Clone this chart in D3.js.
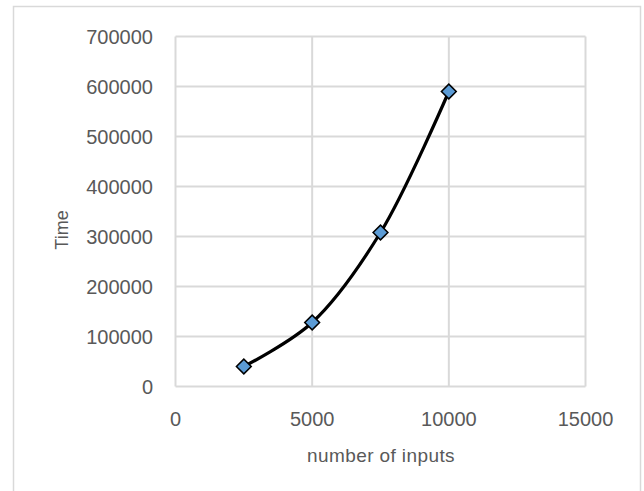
<!DOCTYPE html>
<html>
<head>
<meta charset="utf-8">
<script src="https://cdn.jsdelivr.net/npm/d3@7.9.0/dist/d3.min.js"></script>
<style>
  html, body { margin: 0; padding: 0; background: #fff; }
  svg text { font-family: "Liberation Sans", Arial, sans-serif; fill: #595959; }
</style>
</head>
<body>
<svg id="chart" width="644" height="491"></svg>
<script>
// values
const inputs = [2500, 5000, 7500, 10000];
const times = [40000, 128000, 308000, 590000];
const xTicks = [0, 5000, 10000, 15000];
const yTicks = [0, 100000, 200000, 300000, 400000, 500000, 600000, 700000];

const svg = d3.select('#chart');

// outer chart border
svg.append('rect')
  .attr('x', 13.5).attr('y', 6.5)
  .attr('width', 627).attr('height', 500)
  .attr('fill', 'none').attr('stroke', '#d9d9d9').attr('stroke-width', 1.5);

const x = d3.scaleLinear().domain([0, 15000]).range([175.5, 585.5]);
const y = d3.scaleLinear().domain([0, 700000]).range([386.5, 36.5]);

// gridlines
svg.append('g').selectAll('line').data(yTicks).join('line')
  .attr('x1', x(0)).attr('x2', x(15000))
  .attr('y1', d => y(d)).attr('y2', d => y(d))
  .attr('stroke', '#d9d9d9').attr('stroke-width', 2);

svg.append('g').selectAll('line').data(xTicks).join('line')
  .attr('x1', d => x(d)).attr('x2', d => x(d))
  .attr('y1', y(0)).attr('y2', y(700000))
  .attr('stroke', '#d9d9d9').attr('stroke-width', 2);

// tick labels
svg.append('g').selectAll('text').data(yTicks).join('text')
  .attr('x', 153).attr('y', d => y(d))
  .attr('dy', '0.35em')
  .attr('text-anchor', 'end')
  .attr('font-size', 20)
  .text(d => d);

svg.append('g').selectAll('text').data(xTicks).join('text')
  .attr('x', d => x(d)).attr('y', 419)
  .attr('dy', '0.35em')
  .attr('text-anchor', 'middle')
  .attr('font-size', 20)
  .text(d => d);

// axis titles
svg.append('text')
  .attr('x', 381).attr('y', 455)
  .attr('dy', '0.35em')
  .attr('text-anchor', 'middle')
  .attr('font-size', 19)
  .attr('letter-spacing', 0.4)
  .text('number of inputs');

svg.append('text')
  .attr('transform', 'translate(62,230) rotate(-90)')
  .attr('dy', '0.35em')
  .attr('text-anchor', 'middle')
  .attr('font-size', 18)
  .text('Time');

// smoothed line
const pts = inputs.map((d, i) => [d, times[i]]);
const line = d3.line()
  .x(d => x(d[0])).y(d => y(d[1]))
  .curve(d3.curveCatmullRom.alpha(0.5));

svg.append('path')
  .datum(pts)
  .attr('d', line)
  .attr('fill', 'none')
  .attr('stroke', '#000')
  .attr('stroke-width', 3.2)
  .attr('stroke-linejoin', 'round');

// diamond markers
const sym = d3.symbol().type(d3.symbolSquare).size(110);
svg.append('g').selectAll('path').data(pts).join('path')
  .attr('d', sym)
  .attr('transform', d => `translate(${x(d[0])},${y(d[1])}) rotate(45)`)
  .attr('fill', '#5b9bd5')
  .attr('stroke', '#000')
  .attr('stroke-width', 1.5);
</script>
</body>
</html>
